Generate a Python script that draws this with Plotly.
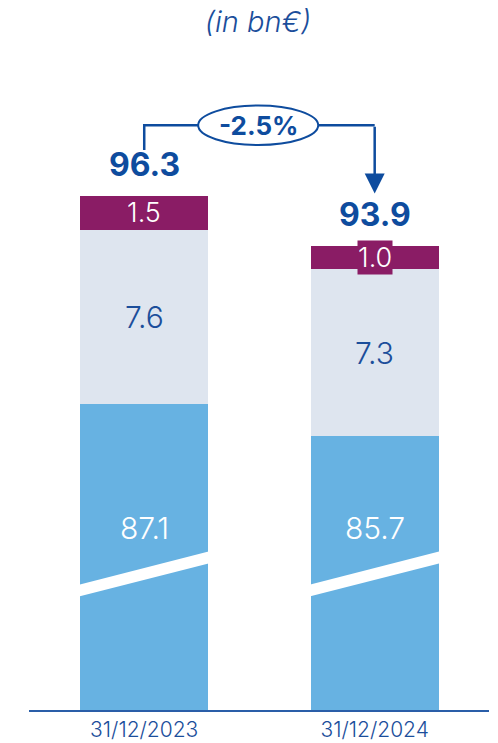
import plotly.graph_objects as go

# --- data (bn€) ---
dates = ["31/12/2023", "31/12/2024"]
core = [87.1, 85.7]
middle = [7.6, 7.3]
other = [1.5, 1.0]
totals = [96.3, 93.9]
change_pct = (totals[1] - totals[0]) / totals[0] * 100

# --- style ---
BLUE = "#67B2E2"
GREY = "#DEE5EF"
PURPLE = "#8A1C65"
NAVY = "#0E4C9E"
TEXT_BLUE = "#1B4E9B"
FONT = "Inter"

W, H = 498, 743
M_L, M_R, M_T, M_B = 29, 9, 60, 33
Y_MIN = 73.74
PX_PER_UNIT = 22.9
Y_MAX = Y_MIN + (H - M_T - M_B) / PX_PER_UNIT
BAR_W = 0.555
xpos = [0, 1]
SMALL_LABEL_PX = 34  # labels on segments thinner than this get a backing box

fig = go.Figure()
for vals, color, name in [(core, BLUE, "core"), (middle, GREY, "middle"), (other, PURPLE, "other")]:
    fig.add_trace(go.Bar(x=xpos, y=vals, marker=dict(color=color, line=dict(width=0)),
                         width=BAR_W, name=name, hoverinfo="skip"))

annotations = []
# segment labels
core_label_y = Y_MIN + 7.95
for i in range(2):
    annotations.append(dict(x=xpos[i], y=core_label_y, text=f"{core[i]:.1f}", showarrow=False,
                            font=dict(family=FONT, size=30, color="white", weight=300)))
    mid_y = core[i] + middle[i] / 2
    annotations.append(dict(x=xpos[i], y=mid_y, text=f"{middle[i]:.1f}", showarrow=False,
                            font=dict(family=FONT, size=30, color=TEXT_BLUE, weight=300)))
    top_y = core[i] + middle[i] + other[i] / 2
    needs_box = other[i] * PX_PER_UNIT < SMALL_LABEL_PX
    annotations.append(dict(x=xpos[i], y=top_y, text=f"{other[i]:.1f}", showarrow=False,
                            bgcolor=PURPLE if needs_box else None, borderpad=0,
                            font=dict(family=FONT, size=27, color="white", weight=300)))
    stack_top = core[i] + middle[i] + other[i]
    annotations.append(dict(x=xpos[i], y=stack_top, text=f"<b>{totals[i]:.1f}</b>", showarrow=False,
                            yanchor="bottom", yshift=10,
                            font=dict(family=FONT, size=32, color=NAVY)))

# growth bracket
bracket_y = Y_MAX - 2.85
ell_x0, ell_x1 = 0.234, 0.755
ell_h = 0.86
left_leg_bottom = bracket_y - 1.08
arrow_tip = core[1] + middle[1] + other[1] + 2.3

shapes = []
shapes.append(dict(type="path", xref="x", yref="y",
                   path=f"M 0 {left_leg_bottom} L 0 {bracket_y} L {ell_x0} {bracket_y}",
                   line=dict(color=NAVY, width=2.5)))
shapes.append(dict(type="line", xref="x", yref="y", x0=ell_x1, x1=1, y0=bracket_y, y1=bracket_y,
                   line=dict(color=NAVY, width=2.5)))
shapes.append(dict(type="circle", xref="x", yref="y", x0=ell_x0, x1=ell_x1,
                   y0=bracket_y - ell_h, y1=bracket_y + ell_h,
                   line=dict(color=NAVY, width=2), fillcolor="white"))
annotations.append(dict(x=0.5, y=bracket_y, text=f"<b>{change_pct:.1f}%</b>", showarrow=False,
                        font=dict(family=FONT, size=26, color=NAVY)))
annotations.append(dict(x=1, y=arrow_tip, ax=1, ay=bracket_y, axref="x", ayref="y",
                        text="", showarrow=True, arrowhead=2, arrowsize=1.6, arrowwidth=2.5,
                        arrowcolor=NAVY))

# axis-break stripes across the first segment
break_lo, break_hi = Y_MIN + 5.2, Y_MIN + 6.68
thick = 0.52
for i in range(2):
    xl = xpos[i] - BAR_W / 2 - 0.01
    xr = xpos[i] + BAR_W / 2 + 0.01
    shapes.append(dict(type="path", xref="x", yref="y", line=dict(width=0), fillcolor="white",
                       path=(f"M {xl} {break_lo - thick/2} L {xr} {break_hi - thick/2} "
                             f"L {xr} {break_hi + thick/2} L {xl} {break_lo + thick/2} Z")))

fig.update_layout(
    width=W, height=H, barmode="stack", showlegend=False,
    margin=dict(l=M_L, r=M_R, t=M_T, b=M_B, autoexpand=False),
    plot_bgcolor="white", paper_bgcolor="white",
    title=dict(text="<i>(in bn€)</i>", x=0.518, xanchor="center", y=1 - 22 / H, yanchor="middle",
               font=dict(family=FONT, size=29, color=TEXT_BLUE, weight=300)),
    xaxis=dict(range=[-0.5, 1.496], tickvals=xpos, ticktext=dates, showgrid=False, zeroline=False,
               showline=True, linecolor="#2A5EA8", linewidth=2, ticks="", automargin=False,
               tickfont=dict(family=FONT, size=21, color=TEXT_BLUE, weight=300)),
    yaxis=dict(range=[Y_MIN, Y_MAX], visible=False, automargin=False),
    annotations=annotations, shapes=shapes,
)

fig.write_html("out.html")
